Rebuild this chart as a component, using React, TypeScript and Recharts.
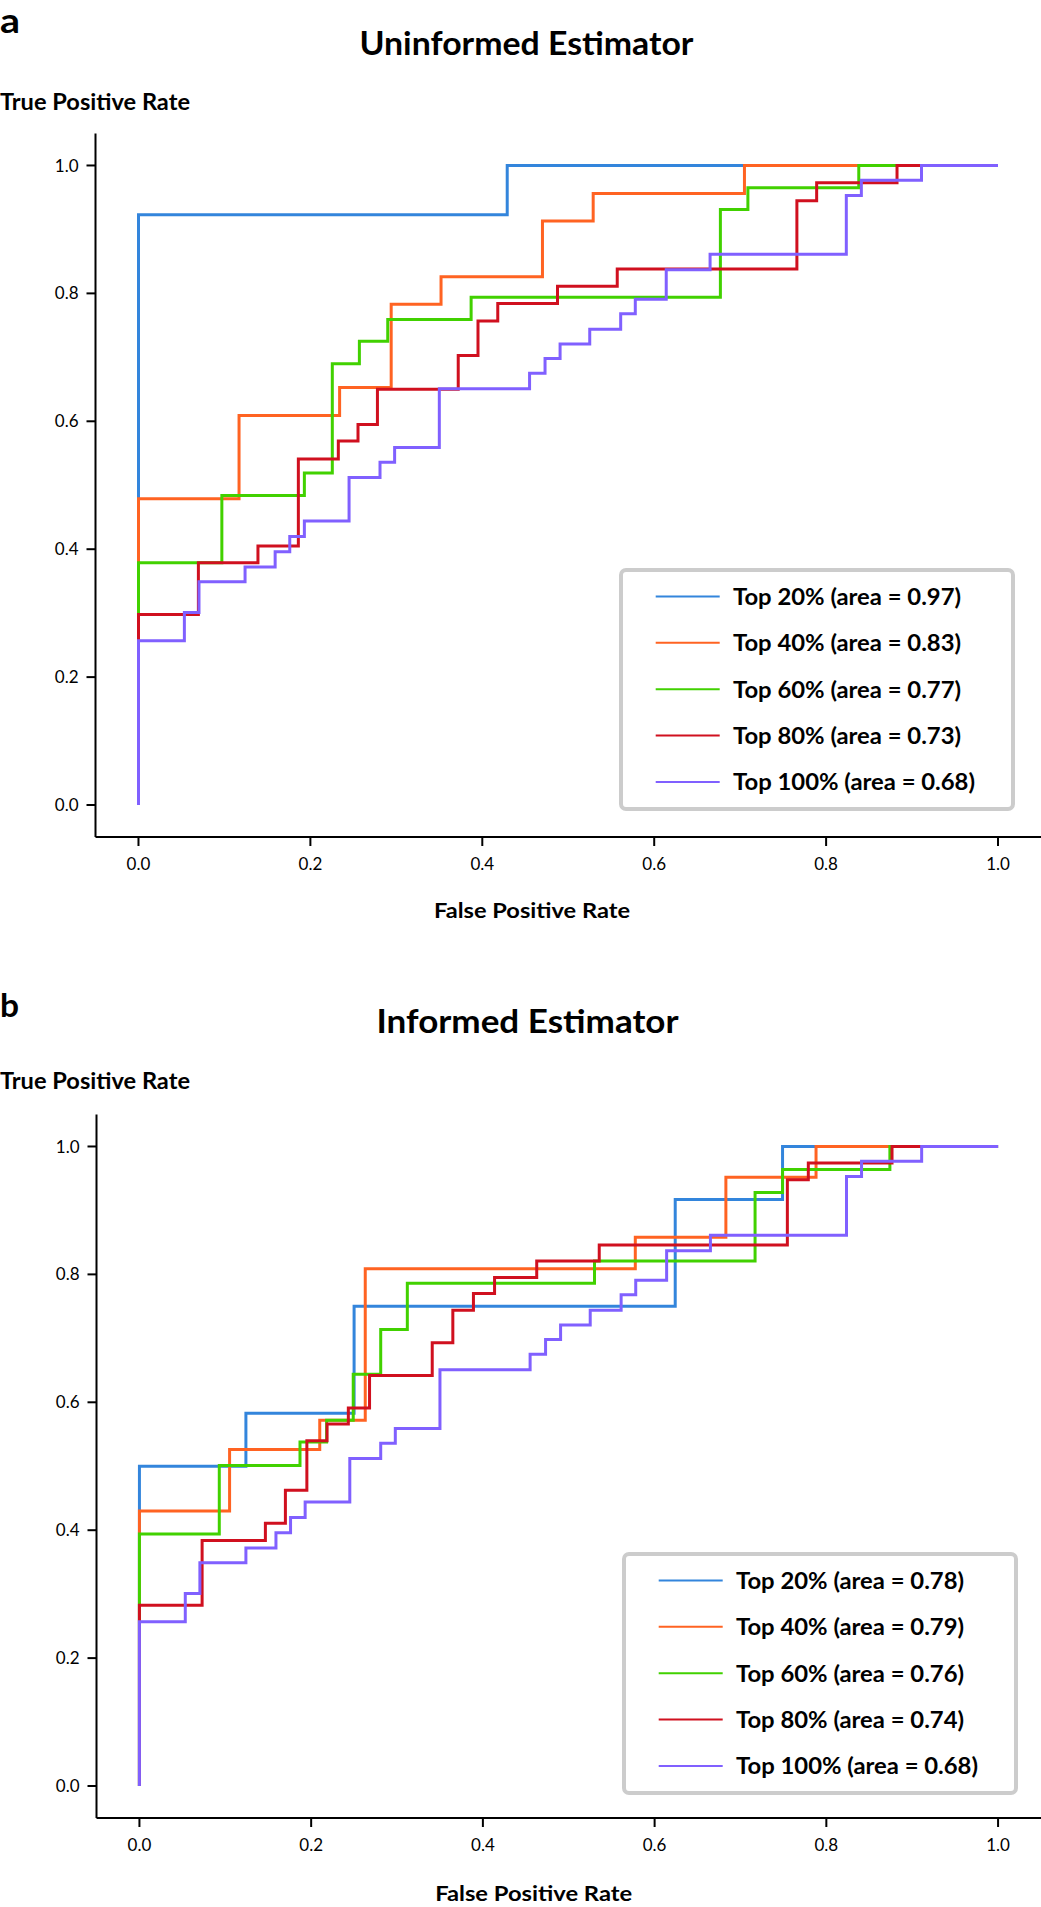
import React from 'react';
import { LineChart, Line, XAxis, YAxis, Legend } from 'recharts';

// ---------- data ----------
const seriesNames = ['Top 20%', 'Top 40%', 'Top 60%', 'Top 80%', 'Top 100%'];
const seriesColors = ['#3385dc', '#ff6322', '#41d100', '#d0101f', '#8060ff'];
const rateTicks = [0, 0.2, 0.4, 0.6, 0.8, 1.0];

const uninformedAreas = [0.97, 0.83, 0.77, 0.73, 0.68];
const informedAreas = [0.78, 0.79, 0.76, 0.74, 0.68];

// [false positive rate, true positive rate] corners (value after each rise)
const uninformedTop20: number[][] = [[0, 0], [0, 0.923], [0.429, 1.0], [1, 1]];
const uninformedTop40: number[][] = [
  [0, 0], [0, 0.479], [0.117, 0.609], [0.234, 0.653], [0.294, 0.783], [0.352, 0.826],
  [0.47, 0.913], [0.529, 0.956], [0.705, 1.0], [1, 1],
];
const uninformedTop60: number[][] = [
  [0, 0], [0, 0.379], [0.097, 0.484], [0.193, 0.519], [0.2255, 0.69], [0.257, 0.725],
  [0.29, 0.759], [0.387, 0.794], [0.677, 0.931], [0.709, 0.965], [0.838, 1.0], [1, 1],
];
const uninformedTop80: number[][] = [
  [0, 0], [0, 0.298], [0.0697, 0.379], [0.139, 0.405], [0.186, 0.541], [0.2325, 0.569],
  [0.2554, 0.595], [0.278, 0.65], [0.372, 0.703], [0.395, 0.757], [0.418, 0.784],
  [0.4875, 0.811], [0.557, 0.838], [0.766, 0.945], [0.789, 0.973], [0.8825, 1.0], [1, 1],
];
const uninformedTop100: number[][] = [
  [0, 0], [0, 0.257], [0.0534, 0.301], [0.0704, 0.349], [0.124, 0.372], [0.159, 0.396],
  [0.176, 0.42], [0.193, 0.444], [0.245, 0.512], [0.281, 0.536], [0.298, 0.559],
  [0.35, 0.651], [0.455, 0.675], [0.473, 0.698], [0.4905, 0.721], [0.525, 0.744],
  [0.561, 0.768], [0.578, 0.791], [0.614, 0.837], [0.665, 0.861], [0.8235, 0.953],
  [0.841, 0.977], [0.911, 1.0], [1, 1],
];

const informedTop20: number[][] = [
  [0, 0], [0, 0.5], [0.124, 0.583], [0.25, 0.75], [0.624, 0.917], [0.749, 1.0], [1, 1],
];
const informedTop40: number[][] = [
  [0, 0], [0, 0.43], [0.105, 0.526], [0.21, 0.572], [0.263, 0.809], [0.5775, 0.858],
  [0.683, 0.952], [0.788, 1.0], [1, 1],
];
const informedTop60: number[][] = [
  [0, 0], [0, 0.394], [0.093, 0.501], [0.187, 0.538], [0.218, 0.572], [0.249, 0.644],
  [0.281, 0.714], [0.312, 0.786], [0.53, 0.821], [0.717, 0.928], [0.749, 0.964],
  [0.874, 1.0], [1, 1],
];
const informedTop80: number[][] = [
  [0, 0], [0, 0.2825], [0.073, 0.384], [0.1467, 0.411], [0.17, 0.4625], [0.195, 0.54],
  [0.2185, 0.566], [0.2433, 0.591], [0.268, 0.642], [0.341, 0.693], [0.365, 0.744],
  [0.389, 0.77], [0.4136, 0.795], [0.4627, 0.821], [0.5355, 0.846], [0.7546, 0.948],
  [0.779, 0.974], [0.8765, 1.0], [1, 1],
];
const informedTop100: number[][] = [
  [0, 0], [0, 0.257], [0.0534, 0.301], [0.0704, 0.349], [0.124, 0.372], [0.159, 0.396],
  [0.176, 0.42], [0.193, 0.444], [0.245, 0.512], [0.281, 0.536], [0.298, 0.559],
  [0.35, 0.651], [0.455, 0.675], [0.473, 0.698], [0.4905, 0.721], [0.525, 0.744],
  [0.561, 0.768], [0.578, 0.791], [0.614, 0.837], [0.665, 0.861], [0.8235, 0.953],
  [0.841, 0.977], [0.911, 1.0], [1, 1],
];

const uninformedCurves = [uninformedTop20, uninformedTop40, uninformedTop60, uninformedTop80, uninformedTop100];
const informedCurves = [informedTop20, informedTop40, informedTop60, informedTop80, informedTop100];

// ---------- rendering ----------
const FONT = 'Lato, "Open Sans", "DejaVu Sans", sans-serif';

const toPoints = (curve: number[][]) => curve.map(([x, y]) => ({ x, y }));

const LegendBox = ({ areas }: { areas: number[] }) => (
  <svg width={396} height={243} style={{ display: 'block', overflow: 'visible' }}>
    <rect x={2} y={2} width={392} height={239} rx={5} ry={5} fill="#ffffff" stroke="#cccccc" strokeWidth={4} />
    {seriesNames.map((name, i) => {
      const cy = 28.4 + 46.4 * i;
      return (
        <g key={name}>
          <line x1={36.7} x2={100.7} y1={cy} y2={cy} stroke={seriesColors[i]} strokeWidth={2} />
          <text
            x={114}
            y={cy + 8.3}
            fontFamily={FONT}
            fontWeight={700}
            fontSize={23}
            fill="#000"
            textLength={i === 4 ? 242 : 228}
            lengthAdjust="spacingAndGlyphs"
          >
            {`${name} (area = ${areas[i].toFixed(2)})`}
          </text>
        </g>
      );
    })}
  </svg>
);

type PanelProps = {
  top: number;
  height: number;
  marginLeft: number;
  curves: number[][][];
  areas: number[];
  legendLeft: number;
  legendTop: number;
};

const Panel = ({ top, height, marginLeft, curves, areas, legendLeft, legendTop }: PanelProps) => (
  <div style={{ position: 'absolute', left: 0, top, width: 1041, height }}>
    <LineChart
      width={1041}
      height={height}
      margin={{ top: 133.5, right: 0, bottom: height - 837 - 30, left: marginLeft - 40 }}
    >
      <XAxis
        dataKey="x"
        type="number"
        domain={[-0.05, 1.05]}
        allowDataOverflow
        ticks={rateTicks}
        tickFormatter={(v: number) => v.toFixed(1)}
        height={30}
        tickSize={9}
        tickMargin={12}
        axisLine={{ stroke: '#000', strokeWidth: 2 }}
        tickLine={{ stroke: '#000', strokeWidth: 2 }}
        tick={{ fill: '#000', fontSize: 17, fontFamily: FONT }}
      />
      <YAxis
        dataKey="y"
        type="number"
        domain={[-0.05, 1.05]}
        allowDataOverflow
        ticks={rateTicks}
        tickFormatter={(v: number) => v.toFixed(1)}
        width={40}
        tickSize={9}
        tickMargin={8}
        axisLine={{ stroke: '#000', strokeWidth: 2 }}
        tickLine={{ stroke: '#000', strokeWidth: 2 }}
        tick={{ fill: '#000', fontSize: 17, fontFamily: FONT }}
      />
      {curves.map((curve, i) => (
        <Line
          key={seriesNames[i]}
          name={seriesNames[i]}
          data={toPoints(curve)}
          dataKey="y"
          type="stepAfter"
          stroke={seriesColors[i]}
          strokeWidth={3}
          dot={false}
          activeDot={false}
          isAnimationActive={false}
        />
      ))}
      <Legend
        layout="vertical"
        align="center"
        verticalAlign="middle"
        content={() => <LegendBox areas={areas} />}
        wrapperStyle={{ left: legendLeft, top: legendTop, width: 396, height: 243 }}
      />
    </LineChart>
  </div>
);

const T = (props: any) => (
  <text fontFamily={FONT} fontWeight={700} fill="#000" lengthAdjust="spacingAndGlyphs" {...props} />
);

export default function App() {
  return (
    <div style={{ position: 'absolute', left: 0, top: 0, width: 1041, height: 1907, background: '#fff' }}>
      <Panel top={0} height={981} marginLeft={95.5} curves={uninformedCurves} areas={uninformedAreas} legendLeft={619} legendTop={568} />
      <Panel top={981} height={926} marginLeft={96.5} curves={informedCurves} areas={informedAreas} legendLeft={622} legendTop={571} />
      <svg
        width={1041}
        height={1907}
        style={{ position: 'absolute', left: 0, top: 0, pointerEvents: 'none' }}
      >
        <T x={0} y={33.3} fontSize={34} textLength={20}>a</T>
        <T x={359.5} y={55} fontSize={32} textLength={334}>Uninformed Estimator</T>
        <T x={0} y={110} fontSize={22} textLength={190}>True Positive Rate</T>
        <T x={434} y={918.3} fontSize={21} textLength={196}>False Positive Rate</T>

        <T x={0} y={1016.7} fontSize={33} textLength={19}>b</T>
        <T x={376.5} y={1033.3} fontSize={32} textLength={302}>Informed Estimator</T>
        <T x={0} y={1089} fontSize={22} textLength={190}>True Positive Rate</T>
        <T x={435.2} y={1900.7} fontSize={21} textLength={197}>False Positive Rate</T>
      </svg>
    </div>
  );
}
